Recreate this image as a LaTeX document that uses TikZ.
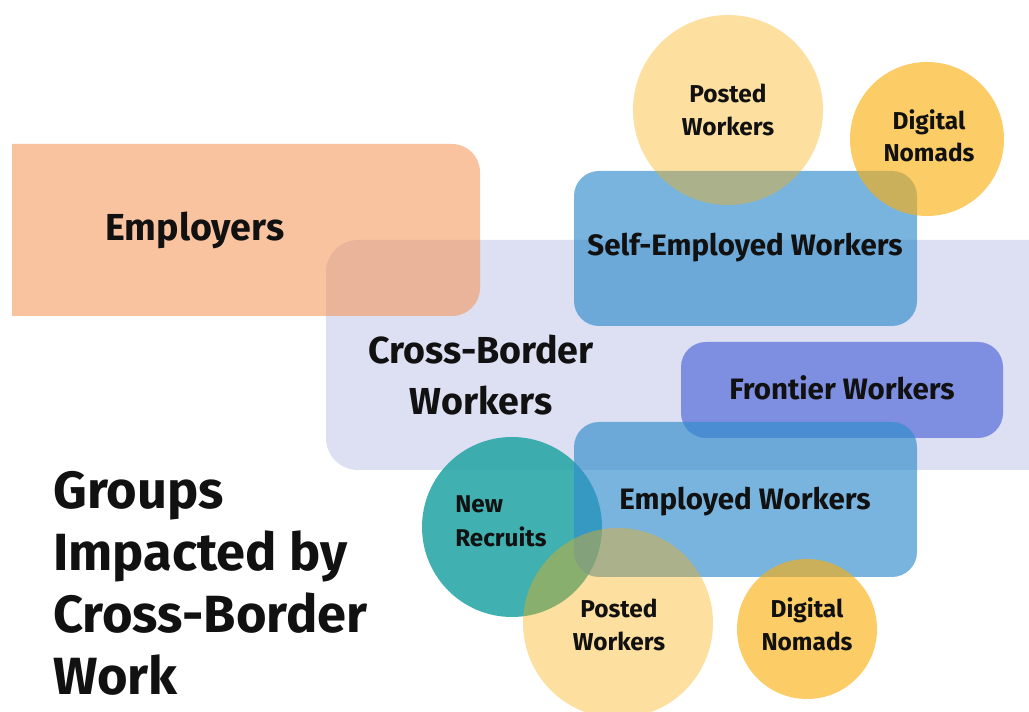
\documentclass[tikz,border=0pt]{standalone}
\usepackage{fontspec}
\setmainfont{Fira Sans}
\definecolor{ink}{RGB}{17,17,17}
\definecolor{lav}{RGB}{220,224,242}
\definecolor{peach}{RGB}{245,145,82}
\definecolor{sky}{RGB}{50,141,205}
\definecolor{amber}{RGB}{250,175,14}
\definecolor{periw}{RGB}{126,142,224}
\definecolor{recruit}{RGB}{43,167,167}
\newcommand\fsz[1]{\fontsize{#1}{1.2\dimexpr#1\relax}\selectfont\bfseries}
\begin{document}
\begin{tikzpicture}[x=0.02cm,y=-0.02cm,
  lbl/.style={inner sep=0pt, text=ink, anchor=base},
  title/.style={lbl, anchor=base west, font=\fsz{29.8pt}},
  big/.style={lbl, font=\fsz{21.4pt}},
  mid/.style={lbl, font=\fsz{16.8pt}},
  tiny/.style={lbl, font=\fsz{13.9pt}},
  wee/.style={lbl, anchor=base west, font=\fsz{13.8pt}},
  panel/.style={rounded corners=0.5cm},
]
\useasboundingbox (0,0) rectangle (1029,712);
\clip (0,0) rectangle (1029,712);

% cross-border band, running off the right edge
\fill[lav, rounded corners=0.64cm] (326,240) rectangle (1120,470);

% employers block, square on its left side
\begin{scope}
  \clip (12,0) rectangle (600,712);
  \fill[peach, fill opacity=0.55, rounded corners=0.56cm] (-40,144) rectangle (480,316);
\end{scope}

% upper group
\fill[sky, fill opacity=0.66, panel] (574,171) rectangle (917,326);
\fill[amber, fill opacity=0.4] (728,110) circle [radius=95];
\fill[amber, fill opacity=0.63] (927,139) circle [radius=77];

% lower group
\fill[periw, panel] (681,342) rectangle (1003,438);
\fill[recruit, fill opacity=0.9] (512,527) circle [radius=90];
\fill[sky, fill opacity=0.66, panel] (574,422) rectangle (917,577);
\fill[amber, fill opacity=0.4] (618,623) circle [radius=95];
\fill[amber, fill opacity=0.63] (807,629) circle [radius=70];

% labels
\node[big] (emp) at (195,241) {Employers};
\node[big] (cb1) at (481,364) {Cross-Border};
\node[big] (cb2) at (481,415) {Workers};
\node[mid] (self) at (745,256) {Self-Employed Workers};
\node[tiny] (pt1) at (728,103) {Posted};
\node[tiny] (pt2) at (728,136) {Workers};
\node[tiny] (dt1) at (929,130) {Digital};
\node[tiny] (dt2) at (929,162) {Nomads};
\node[mid] (fro) at (842,400) {Frontier Workers};
\node[mid] (empw) at (745,510) {Employed Workers};
\node[wee] (nr1) at (455,513) {New};
\node[wee] (nr2) at (455,547) {Recruits};
\node[tiny] (pb1) at (619,618) {Posted};
\node[tiny] (pb2) at (619,651) {Workers};
\node[tiny] (db1) at (807,618) {Digital};
\node[tiny] (db2) at (807,651) {Nomads};

\node[title] (t1) at (53,509) {Groups};
\node[title] (t2) at (53,571) {Impacted by};
\node[title] (t3) at (53,633) {Cross-Border};
\node[title] (t4) at (53,695) {Work};
\end{tikzpicture}
\end{document}
